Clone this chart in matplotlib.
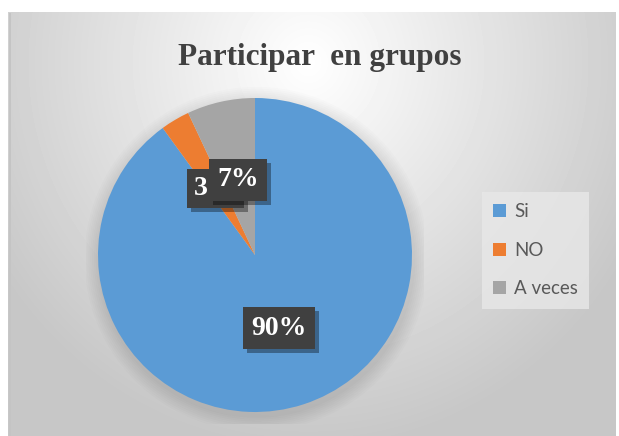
from matplotlib import pyplot as plt
from matplotlib.transforms import ScaledTranslation
import numpy as np

# datos del gráfico
categorias = ["Si", "NO", "A veces"]
porcentajes = [90, 3, 7]
etiquetas = ["90%", "3", "7%"]
colores = ["#5B9BD5", "#ED7D31", "#A5A5A5"]
titulo = "Participar  en grupos"

W, H = 619, 436
fig = plt.figure(figsize=(W / 100, H / 100), dpi=100)
fig.patch.set_facecolor("white")

# fondo con degradado radial (area del grafico)
bg = fig.add_axes([8 / W, 0, 608 / W, 424 / H])
yy, xx = np.mgrid[0:424, 0:608]
d = np.sqrt(((xx - 300) / 400) ** 2 + ((yy - 50) / 420) ** 2)
g = np.clip(1.0 - 0.24 * d, 0.78, 1.0)
bg.imshow(g, cmap="gray", vmin=0, vmax=1, aspect="auto", interpolation="bilinear")
bg.axis("off")
bg.add_patch(plt.Rectangle((0, 0), 2, 424, color="#c4c4c4", lw=0))

# pastel
cx, cy, R = 255, 255, 157
m = 12
ax = fig.add_axes([(cx - R - m) / W, (H - cy - R - m) / H, (2 * R + 2 * m) / W, (2 * R + 2 * m) / H])
ax.axis("off")

# sombra suave del pastel
for i in range(8):
    ax.add_patch(plt.Circle((0.01, -0.025), 1 + 0.012 * (8 - i), color="black",
                            alpha=0.012, lw=0, zorder=0))

wedges, _ = ax.pie(porcentajes, colors=colores, startangle=90, counterclock=False,
                   radius=1, wedgeprops=dict(lw=0))
for w in wedges:
    w.set_zorder(1)
ax.set_xlim(-1 - m / R, 1 + m / R)
ax.set_ylim(-1 - m / R, 1 + m / R)
ax.set_aspect("equal")

# etiquetas de datos
cajas = []
for w, lab in zip(wedges, etiquetas):
    ang = np.deg2rad((w.theta1 + w.theta2) / 2)
    x, y = 0.49 * np.cos(ang), 0.49 * np.sin(ang)
    if lab == "3":
        # etiqueta recortada como en Excel: caja fija, texto a la izquierda
        tr = fig.dpi_scale_trans + ScaledTranslation(x, y, ax.transData)
        bw, bh = 0.57, 0.39
        ax.add_patch(plt.Rectangle((-bw / 2 + 0.04, -bh / 2 - 0.04), bw, bh, fc="black",
                                   alpha=0.35, lw=0, transform=tr, zorder=3))
        ax.add_patch(plt.Rectangle((-bw / 2, -bh / 2), bw, bh, fc="#404040",
                                   lw=0, transform=tr, zorder=3.2))
        ax.annotate(lab, (x, y), xytext=(-bw / 2 * 72 + 5, 0), textcoords="offset points",
                    ha="left", va="center", fontsize=20, fontweight="bold",
                    family="Liberation Serif", color="white", zorder=3.4)
        continue
    box = dict(boxstyle="square,pad=0.3", fc="#404040", ec="none")
    t = ax.annotate(lab, (x, y), ha="center", va="center", fontsize=20,
                    fontweight="bold", family="Liberation Serif", color="white",
                    bbox=box, zorder=4)
    cajas.append(t)

# sombras de las cajas (en pixeles de la figura)
fig.canvas.draw()
for t in cajas:
    bb = t.get_bbox_patch().get_window_extent()
    ax.add_patch(plt.Rectangle((bb.x0 + 4, bb.y0 - 4), bb.width, bb.height,
                               transform=None, fc="black", alpha=0.35, lw=0, zorder=3.6))

fig.text(320 / W, 1 - 65 / H, titulo, ha="center", va="baseline", fontsize=22.5,
         fontweight="bold", family="Liberation Serif", color="#404040")

leg = fig.legend(wedges, categorias, loc="upper left",
                 bbox_to_anchor=(482 / W, 1 - 192 / H), frameon=True,
                 prop=dict(family="Lato", size=13.5), labelcolor="#595959",
                 handlelength=0.7, handleheight=0.7, handletextpad=0.4,
                 labelspacing=1.15, borderpad=0.6, borderaxespad=0, fancybox=False)
leg.get_frame().set_facecolor("#e8e8e8")
leg.get_frame().set_edgecolor("none")
leg.get_frame().set_alpha(0.8)

fig.savefig("out.png", dpi=100)
